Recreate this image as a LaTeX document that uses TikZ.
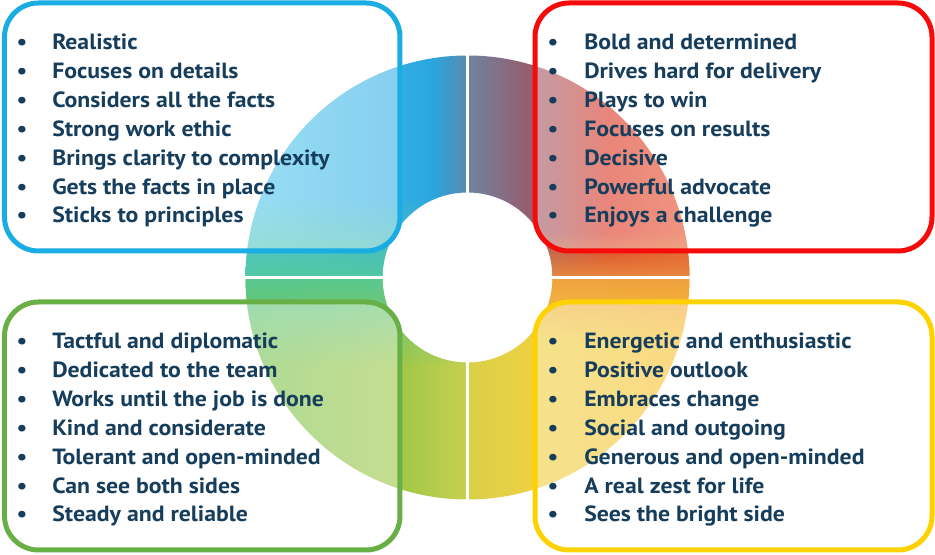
\documentclass[tikz,border=0pt]{standalone}
\usepackage{fontspec}
\setmainfont{PT Sans}[FakeStretch=1.08]
\usepackage{xcolor}
\definecolor{ink}{HTML}{163E5C}
\definecolor{skyline}{HTML}{1AADE4}
\definecolor{redline}{HTML}{F70A0A}
\definecolor{greenline}{HTML}{68B045}
\definecolor{yellowline}{HTML}{FDD200}
% ring colours
\definecolor{slate}{HTML}{6E84A0}
\definecolor{mauve}{HTML}{985C6C}
\definecolor{scarlet}{HTML}{DC3422}
\definecolor{vermil}{HTML}{E6502A}
\definecolor{amber}{HTML}{E88A40}
\definecolor{paleblue}{HTML}{55C8EE}
\definecolor{midblue}{HTML}{35B0E6}
\definecolor{deepblue}{HTML}{2AA6DE}
\definecolor{steel}{HTML}{5A88AC}
\definecolor{teal}{HTML}{52C8A0}
\definecolor{leaf}{HTML}{78C24C}
\definecolor{lime}{HTML}{A0C848}
\definecolor{olive}{HTML}{C8D050}
\definecolor{mint}{HTML}{58C890}
\definecolor{straw}{HTML}{D8D048}
\definecolor{sun}{HTML}{F0D040}
\definecolor{gold}{HTML}{F8C030}
\definecolor{tangerine}{HTML}{F0A040}
\usetikzlibrary{positioning,fadings}
\tikzfading[name=fadeup,top color=transparent!100,bottom color=transparent!0]
\tikzfading[name=fadedown,top color=transparent!0,bottom color=transparent!100]
\newcommand\sector[1]{(#1:85) -- (#1:222) arc[start angle=#1,delta angle=90,radius=222]
  -- (#1+90:85) arc[start angle=#1+90,delta angle=-90,radius=85] -- cycle}

\begin{document}
\begin{tikzpicture}[x=0.75pt,y=0.75pt]
\tikzset{
    card/.style={line width=3.75pt,rounded corners=25.5pt,fill=white,fill opacity=0.4},
    item/.style={anchor=base west,inner sep=0pt,text=ink,font=\bfseries\fontsize{16.5}{19}\selectfont},
    dot/.style={anchor=base,inner sep=0pt,text=ink,font=\bfseries\fontsize{16.5}{19}\selectfont},
    gap/.style={white,line width=2.25pt}
}
\fill[white] (-467.5,-277.5) rectangle (467.5,277.5);
\useasboundingbox (-467.5,-277.5) rectangle (467.5,277.5);
% ring, top right
\begin{scope}
  \clip \sector{0};
  \shade[left color=slate,right color=mauve] (-1,-1) rectangle (64,223);
  \shade[left color=mauve,right color=scarlet] (63,-1) rectangle (141,223);
  \shade[left color=scarlet,right color=vermil] (140,-1) rectangle (223,223);
  \fill[amber,path fading=fadeup] (-1,-1) rectangle (223,46);
\end{scope}
% ring, top left
\begin{scope}
  \clip \sector{90};
  \shade[left color=paleblue,right color=midblue] (-223,-1) rectangle (-74,223);
  \shade[left color=midblue,right color=deepblue] (-75,-1) rectangle (-34,223);
  \shade[left color=deepblue,right color=steel] (-35,-1) rectangle (1,223);
  \fill[teal,path fading=fadeup] (-223,-1) rectangle (1,80);
\end{scope}
% ring, bottom left
\begin{scope}
  \clip \sector{180};
  \shade[left color=leaf,right color=lime] (-223,1) rectangle (-66,-223);
  \shade[left color=lime,right color=olive] (-67,1) rectangle (1,-223);
  \fill[mint,path fading=fadedown] (-223,1) rectangle (1,-90);
\end{scope}
% ring, bottom right
\begin{scope}
  \clip \sector{270};
  \shade[left color=straw,right color=sun] (-1,1) rectangle (68,-223);
  \shade[left color=sun,right color=gold] (67,1) rectangle (223,-223);
  \fill[tangerine,path fading=fadedown] (-1,1) rectangle (223,-60);
\end{scope}
\draw[gap] (0,-223) -- (0,223);
\draw[gap] (-223,0) -- (223,0);
% cards
\draw[card,draw=skyline] (-463,274.5) rectangle (-67.5,26.5);
\draw[card,draw=redline] (67.5,274.5) rectangle (464.5,26.5);
\draw[card,draw=greenline] (-463,-24.5) rectangle (-67.5,-272.5);
\draw[card,draw=yellowline] (67.5,-24.5) rectangle (464.5,-272.5);
% lists
\foreach \txt [count=\i] in {Realistic,Focuses on details,Considers all the facts,
    Strong work ethic,Brings clarity to complexity,Gets the facts in place,Sticks to principles}{
  \node[dot] (bluedot\i) at (-445.5,{227.5-28.83*(\i-1)}) {\textbullet};
  \node[item] (blue\i) at (-415.5,{227.5-28.83*(\i-1)}) {\txt};
}
\foreach \txt [count=\i] in {Bold and determined,Drives hard for delivery,Plays to win,
    Focuses on results,Decisive,Powerful advocate,Enjoys a challenge}{
  \node[dot] (reddot\i) at (85.5,{227.5-28.83*(\i-1)}) {\textbullet};
  \node[item] (red\i) at (116.5,{227.5-28.83*(\i-1)}) {\txt};
}
\foreach \txt [count=\i] in {Tactful and diplomatic,Dedicated to the team,Works until the job is done,
    Kind and considerate,Tolerant and open-minded,Can see both sides,Steady and reliable}{
  \node[dot] (greendot\i) at (-445.5,{-71.5-28.83*(\i-1)}) {\textbullet};
  \node[item] (green\i) at (-415.5,{-71.5-28.83*(\i-1)}) {\txt};
}
\foreach \txt [count=\i] in {Energetic and enthusiastic,Positive outlook,Embraces change,
    Social and outgoing,Generous and open-minded,A real zest for life,Sees the bright side}{
  \node[dot] (yellowdot\i) at (85.5,{-71.5-28.83*(\i-1)}) {\textbullet};
  \node[item] (yellow\i) at (116.5,{-71.5-28.83*(\i-1)}) {\txt};
}
\end{tikzpicture}
\end{document}
